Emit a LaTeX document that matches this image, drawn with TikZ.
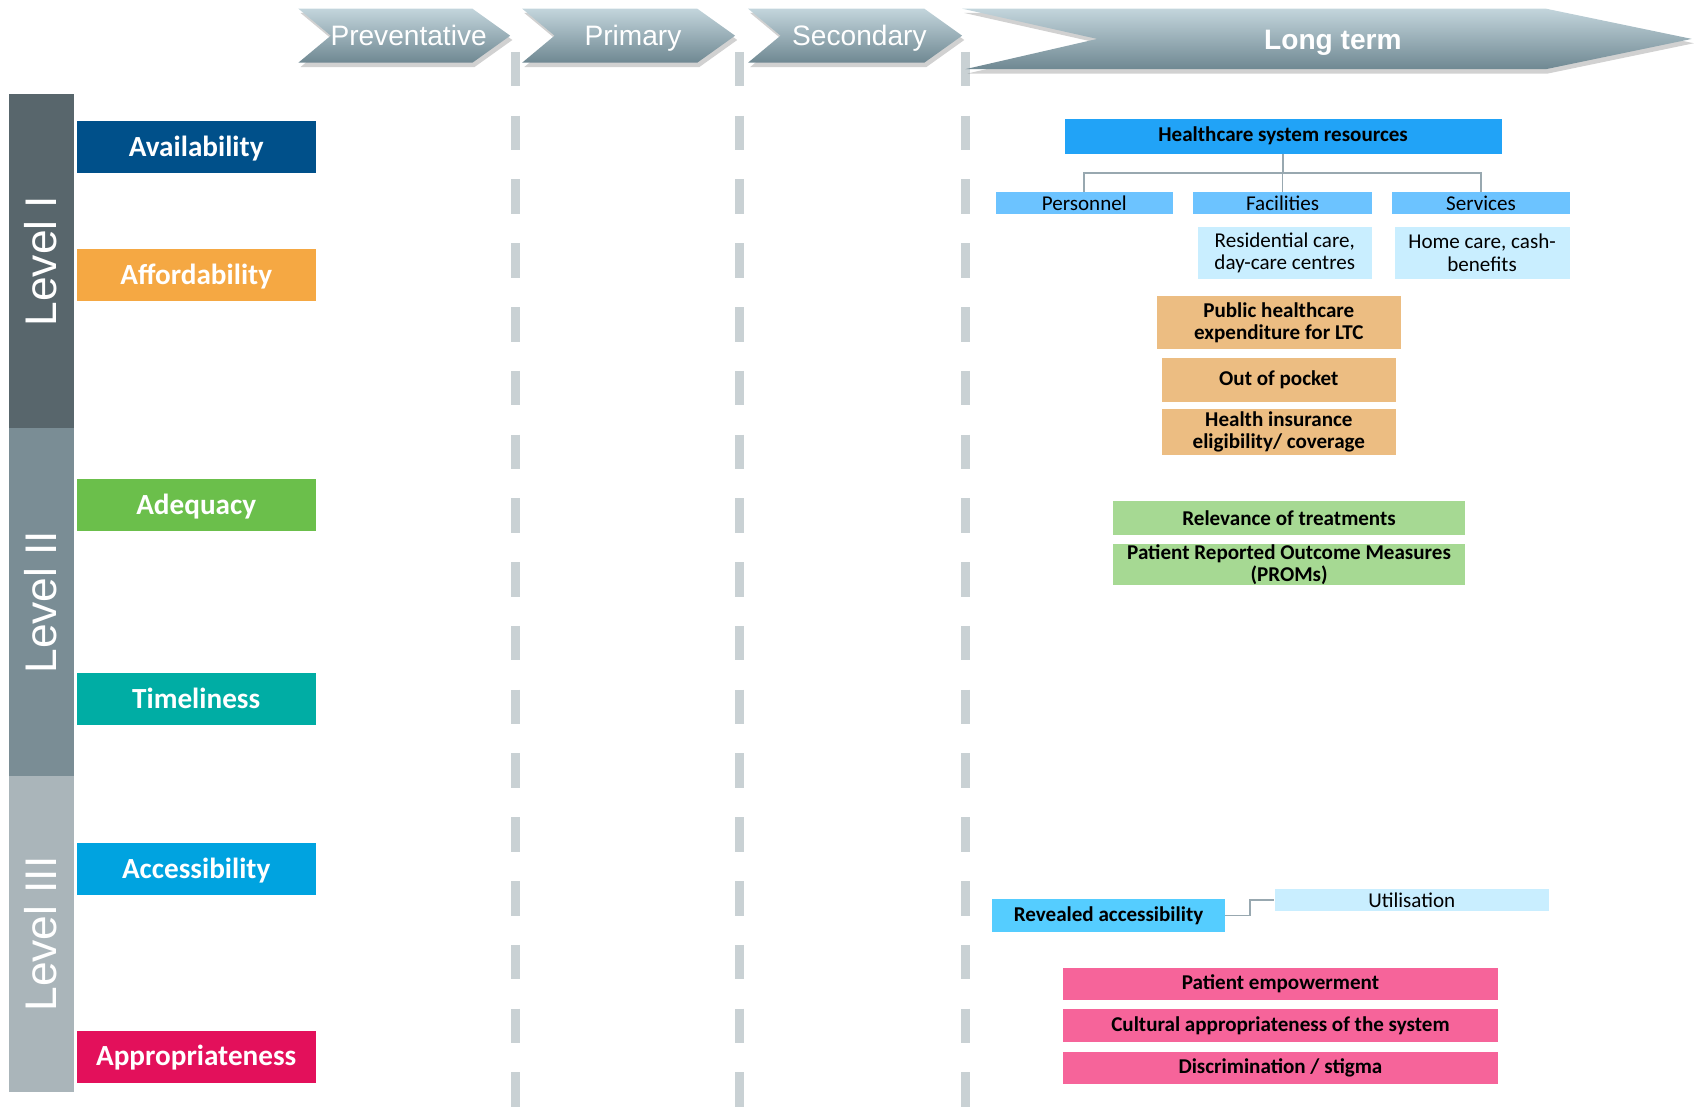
\documentclass[tikz,border=0pt]{standalone}
\usepackage{fontspec}
\setmainfont{Carlito}
\newfontfamily\headfont{Liberation Sans}
\usetikzlibrary{positioning,calc}
\definecolor{chevtop}{HTML}{C3D5DC}
\definecolor{chevbot}{HTML}{6F8892}
\definecolor{sepline}{HTML}{C9D1D4}
\definecolor{lvone}{HTML}{58666C}
\definecolor{lvtwo}{HTML}{7A8D95}
\definecolor{lvthree}{HTML}{AAB5BA}
\definecolor{avail}{HTML}{00508A}
\definecolor{afford}{HTML}{F5A843}
\definecolor{adeq}{HTML}{6BBF4B}
\definecolor{timely}{HTML}{00ADA4}
\definecolor{access}{HTML}{00A3E0}
\definecolor{approp}{HTML}{E3105B}
\definecolor{resblue}{HTML}{21A3F7}
\definecolor{subblue}{HTML}{6CC3FF}
\definecolor{paleblue}{HTML}{C9EEFF}
\definecolor{revblue}{HTML}{55CDFF}
\definecolor{costor}{HTML}{ECBD82}
\definecolor{adeqgr}{HTML}{A6D993}
\definecolor{apppink}{HTML}{F6649A}
\definecolor{conn}{HTML}{98A8B0}

\begin{document}
\begin{tikzpicture}[x=1pt, y=-1pt,
  head/.style={text=white, font=\headfont\fontsize{26}{30}\selectfont, inner sep=0pt, text height=19pt, text depth=0pt},
  lvl/.style={fill=#1, text=white, rotate=90, font=\headfont\fontsize{41}{45}\selectfont, minimum height=60pt, inner sep=0pt},
  dim/.style={fill=#1, text=white, font=\fontsize{27}{30}\selectfont\bfseries, minimum width=221pt, minimum height=48pt, inner sep=0pt, text height=17pt, text depth=0pt},
  item/.style={fill=#1, text=black, font=\fontsize{19.5}{21}\selectfont\bfseries, inner sep=0pt, align=center},
  plain/.style={item=#1, font=\fontsize{19.5}{21}\selectfont},
  link/.style={draw=conn, line width=1.6pt},
]
\useasboundingbox (0,0) rectangle (1568,1030);

\foreach \x in {477,684,893} {
  \draw[sepline, line width=8pt, dash pattern=on 32pt off 27pt] (\x,48) -- (\x,1028);
}

\foreach \lx/\rx/\txt/\nm in {276/472/Preventative/prev, 483/680/Primary/prim, 692/890/Secondary/sec} {
  \fill[black, opacity=0.18] (\lx+2,12) -- (\rx-33,12) -- (\rx+2,37) -- (\rx-33,62) -- (\lx+2,62) -- (\lx+32,37) -- cycle;
  \shade[top color=chevtop, bottom color=chevbot] (\lx,8) -- (\rx-35,8) -- (\rx,33) -- (\rx-35,58) -- (\lx,58) -- (\lx+30,33) -- cycle;
  \node[head] (\nm) at ({(\lx+\rx)/2+4},33) {\txt};
}
\fill[black, opacity=0.18] (892,12) -- (1432,12) -- (1567,40) -- (1432,68) -- (895,68) -- (1017,40) -- cycle;
\shade[top color=chevtop, bottom color=chevbot] (890,8) -- (1430,8) -- (1565,36) -- (1430,64) -- (893,64) -- (1015,36) -- cycle;
\node[head, font=\headfont\bfseries\fontsize{26}{30}\selectfont] (long) at (1233,36) {Long term};

\node[lvl=lvone, minimum width=309pt] (lvl1) at (38,241.5) {Level I};
\node[lvl=lvtwo, minimum width=322pt] (lvl2) at (38,557) {Level II};
\node[lvl=lvthree, minimum width=292pt] (lvl3) at (38,864) {Level III};

\foreach \txt/\yc/\col/\nm in {Availability/136/avail/availability, Affordability/254.5/afford/affordability, Adequacy/467.5/adeq/adequacy, Timeliness/646.5/timely/timeliness, Accessibility/804/access/accessibility, Appropriateness/977.5/approp/appropriateness} {
  \node[dim=\col] (\nm) at (181.5,\yc) {\txt};
}

\node[item=resblue, minimum width=404pt, minimum height=32pt] (hsr) at (1187,126) {Healthcare system resources};
\node[plain=subblue, minimum width=164pt, minimum height=20pt] (pers) at (1003,188) {Personnel};
\node[plain=subblue, minimum width=165pt, minimum height=20pt] (fac) at (1186.5,188) {Facilities};
\node[plain=subblue, minimum width=164pt, minimum height=20pt] (serv) at (1370,188) {Services};
\node[plain=paleblue, minimum width=161pt, minimum height=48pt] (resid) at (1188.5,234) {Residential care,\\day-care centres};
\node[plain=paleblue, minimum width=162pt, minimum height=48pt] (home) at (1371,234) {Home care, cash-\\benefits};
\draw[link] (hsr.south) -- ++(0,18) coordinate (hub);
\draw[link] (hub) -| (pers.north);
\draw[link] (hub) -| (fac.north);
\draw[link] (hub) -| (serv.north);

\node[item=costor, minimum width=226pt, minimum height=49pt] (pub) at (1183,298.5) {Public healthcare\\expenditure for LTC};
\node[item=costor, minimum width=216pt, minimum height=41pt] (oop) at (1183,351.5) {Out of pocket};
\node[item=costor, minimum width=216pt, minimum height=43pt] (ins) at (1183,399.5) {Health insurance\\eligibility/ coverage};

\node[item=adeqgr, minimum width=325pt, minimum height=32pt] (relev) at (1192.5,479) {Relevance of treatments};
\node[item=adeqgr, minimum width=325pt, minimum height=37pt] (proms) at (1192.5,522.5) {Patient Reported Outcome Measures\\(PROMs)};

\node[item=revblue, minimum width=215pt, minimum height=30pt] (revealed) at (1025.5,847) {Revealed accessibility};
\node[plain=paleblue, minimum width=254pt, minimum height=21pt] (util) at (1306,832.5) {Utilisation};
\draw[link] (revealed.east) -- ++(23,0) |- (util.west);

\node[item=apppink, minimum width=403pt, minimum height=30pt] (empower) at (1184.5,910) {Patient empowerment};
\node[item=apppink, minimum width=403pt, minimum height=31pt] (cultural) at (1184.5,948.5) {Cultural appropriateness of the system};
\node[item=apppink, minimum width=403pt, minimum height=30pt] (stigma) at (1184.5,988) {Discrimination / stigma};
\end{tikzpicture}
\end{document}
